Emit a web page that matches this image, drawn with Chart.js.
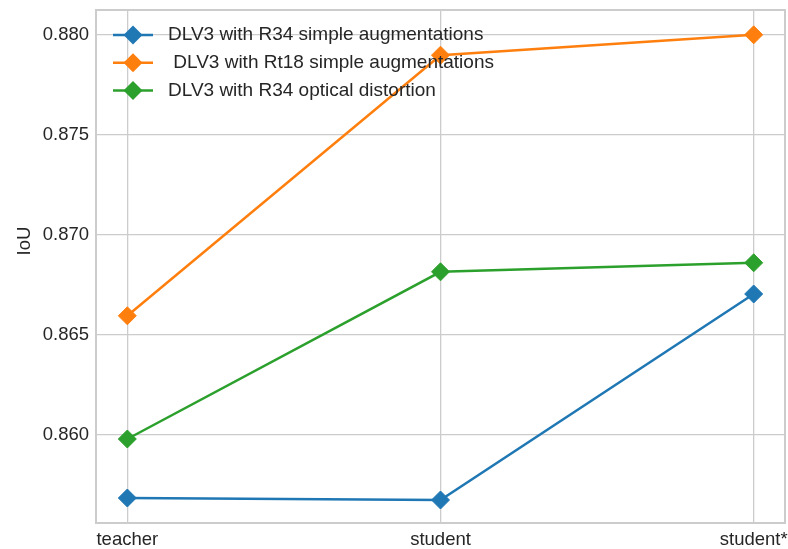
<!DOCTYPE html>
<html>
<head>
<meta charset="utf-8">
<style>
  html, body { margin: 0; padding: 0; background: #ffffff; }
  #wrap { width: 788px; height: 549px; }
</style>
<script src="https://cdn.jsdelivr.net/npm/chart.js@4.4.1/dist/chart.umd.min.js"></script>
</head>
<body>
<div id="wrap"><canvas id="chart" width="788" height="549"></canvas></div>
<script>
// categories on the x axis
const stages = ['teacher', 'student', 'student*'];

// IoU values
const r34Simple = [0.85684, 0.85674, 0.86704];
const rt18Simple = [0.86595, 0.87898, 0.88000];
const r34Optical = [0.85979, 0.86815, 0.86860];

const seriesNames = [
    'DLV3 with R34 simple augmentations',
    ' DLV3 with Rt18 simple augmentations',
    'DLV3 with R34 optical distortion'
];
const seriesColors = ['#1f77b4', '#ff7f0e', '#2ca02c'];

const yTicks = [0.860, 0.865, 0.870, 0.875, 0.880];

const FONT = '"Liberation Sans", Arial, sans-serif';
const TEXT = '#262626';
const GRID = '#cccccc';

const toPoints = vals => vals.map((v, i) => ({ x: i, y: v }));

const makeSet = (label, vals, color) => ({
    label: label,
    data: toPoints(vals),
    borderColor: color,
    backgroundColor: color,
    borderWidth: 2.5,
    pointStyle: 'rectRot',
    pointRadius: 9,
    pointBorderWidth: 1,
    pointHoverRadius: 9,
    tension: 0
});

// frame around the plot + legend inside the axes, like matplotlib
const framePlugin = {
    id: 'frame',
    afterDraw(chart) {
        const { ctx, chartArea: a } = chart;
        ctx.save();
        ctx.strokeStyle = GRID;
        ctx.lineWidth = 2;
        ctx.strokeRect(a.left, a.top, a.right - a.left, a.bottom - a.top);

        // legend
        ctx.font = '19px ' + FONT;
        ctx.textBaseline = 'middle';
        chart.data.datasets.forEach((ds, i) => {
            const y = 35 + i * 27.7;
            ctx.strokeStyle = ds.borderColor;
            ctx.fillStyle = ds.borderColor;
            ctx.lineWidth = 2.5;
            ctx.beginPath();
            ctx.moveTo(113, y);
            ctx.lineTo(153, y);
            ctx.stroke();
            ctx.beginPath();
            ctx.moveTo(133 - 9.5, y);
            ctx.lineTo(133, y - 9.5);
            ctx.lineTo(133 + 9.5, y);
            ctx.lineTo(133, y + 9.5);
            ctx.closePath();
            ctx.fill();
            ctx.fillStyle = TEXT;
            ctx.fillText(ds.label, 168, y);
        });

        // y axis title
        ctx.font = '18.5px ' + FONT;
        ctx.translate(25, 241);
        ctx.rotate(-Math.PI / 2);
        ctx.textAlign = 'center';
        ctx.fillStyle = TEXT;
        ctx.fillText('IoU', 0, 0);
        ctx.restore();
    }
};

new Chart(document.getElementById('chart'), {
    type: 'line',
    data: {
        datasets: [
            makeSet(seriesNames[0], r34Simple, seriesColors[0]),
            makeSet(seriesNames[1], rt18Simple, seriesColors[1]),
            makeSet(seriesNames[2], r34Optical, seriesColors[2])
        ]
    },
    options: {
        responsive: false,
        animation: false,
        layout: { autoPadding: false, padding: { top: 10, right: 3, left: 0, bottom: 0 } },
        plugins: {
            legend: { display: false },
            tooltip: { enabled: false }
        },
        scales: {
            x: {
                type: 'linear',
                min: -0.1,
                max: 2.1,
                afterBuildTicks: s => { s.ticks = stages.map((_, i) => ({ value: i })); },
                afterFit: s => {
                    s.height = 26;
                    s.paddingLeft = 0;
                    s.paddingRight = 0;
                },
                ticks: {
                    color: TEXT,
                    font: { family: FONT, size: 18.5 },
                    padding: 6,
                    maxRotation: 0,
                    callback: v => stages[v]
                },
                grid: { color: GRID, lineWidth: 1.3, drawTicks: false },
                border: { display: false }
            },
            y: {
                type: 'linear',
                min: 0.85559,
                max: 0.88124,
                afterBuildTicks: s => { s.ticks = yTicks.map(v => ({ value: v })); },
                afterFit: s => {
                    s.width = 96;
                    s.paddingTop = 0;
                    s.paddingBottom = 0;
                },
                ticks: {
                    color: TEXT,
                    font: { family: FONT, size: 18.5 },
                    padding: 7,
                    callback: v => v.toFixed(3)
                },
                grid: { color: GRID, lineWidth: 1.3, drawTicks: false },
                border: { display: false }
            }
        }
    },
    plugins: [framePlugin]
});
</script>
</body>
</html>
